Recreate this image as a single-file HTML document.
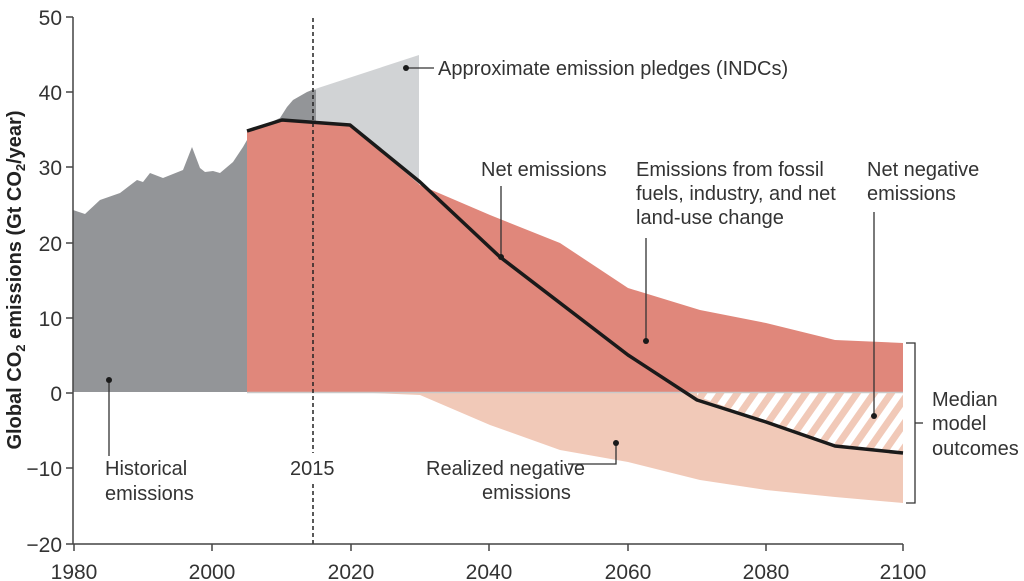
<!DOCTYPE html>
<html><head><meta charset="utf-8"><style>
html,body{margin:0;padding:0;background:#fff;}
svg{display:block;font-family:"Liberation Sans Narrow","Liberation Sans",sans-serif;}
text{fill:#333;font-size:19px;}
</style></head><body>
<svg width="1024" height="581" viewBox="0 0 1024 581">
<defs>
<pattern id="hatch" patternUnits="userSpaceOnUse" width="14" height="14" patternTransform="rotate(35)">
<rect width="14" height="14" fill="#fff"/><rect width="7" height="14" fill="#f1c9b8"/>
</pattern>
</defs>
<polygon points="312,90 419,55 419,185 350,125 312,123" fill="#d1d3d5"/>
<polygon points="73,210 85,214 100,200 120,193 137,180 143,182 150,173 163,178 183,170 192,147 200,168 205,172 213,171 220,173 233,162 243,147 247,140 247,392 73,392" fill="#939598"/>
<polygon points="247,133 280,118 287,107 293,100 307,92 312,90 316,90 316,125 247,135" fill="#939598"/>
<polygon points="350,392 420,395 490,425 560,450 628,462 700,480 766,490 835,497 903,503 903,392" fill="#f1c9b8"/>
<polygon points="697,396 766,422 835,446 903,453 903,393 697,393" fill="url(#hatch)"/>
<polygon points="247,131 282,120 350,125 420,185 490,215 560,243 628,288 700,310 766,323 835,340 903,343 903,392 247,392" fill="#e0877b"/>
<line x1="247" y1="392.5" x2="903" y2="392.5" stroke="#c9c9c9" stroke-width="1.5"/>
<polyline points="247,131 282,120 350,125 420,182 500,257 628,355 697,400 766,422 835,446 903,453" fill="none" stroke="#1a1a1a" stroke-width="3.5" stroke-linejoin="round"/>
<line x1="313" y1="18" x2="313" y2="453" stroke="#222" stroke-width="1.5" stroke-dasharray="4,3"/>
<line x1="313" y1="484" x2="313" y2="545" stroke="#222" stroke-width="1.5" stroke-dasharray="4,3"/>
<line x1="73" y1="17" x2="73" y2="544" stroke="#444" stroke-width="1.5"/>
<line x1="73" y1="544" x2="903" y2="544" stroke="#444" stroke-width="1.5"/>
<g stroke="#444" stroke-width="1.5">
<line x1="66" y1="17" x2="73" y2="17"/><line x1="66" y1="92" x2="73" y2="92"/><line x1="66" y1="167" x2="73" y2="167"/><line x1="66" y1="243" x2="73" y2="243"/><line x1="66" y1="318" x2="73" y2="318"/><line x1="66" y1="393" x2="73" y2="393"/><line x1="66" y1="468" x2="73" y2="468"/><line x1="66" y1="544" x2="73" y2="544"/>
<line x1="74" y1="544" x2="74" y2="551"/><line x1="212" y1="544" x2="212" y2="551"/><line x1="351" y1="544" x2="351" y2="551"/><line x1="489" y1="544" x2="489" y2="551"/><line x1="628" y1="544" x2="628" y2="551"/><line x1="766" y1="544" x2="766" y2="551"/><line x1="903" y1="544" x2="903" y2="551"/>
</g>
<g text-anchor="end">
<text x="62" y="25" style="font-size:21px">50</text><text x="62" y="100" style="font-size:21px">40</text><text x="62" y="175" style="font-size:21px">30</text><text x="62" y="251" style="font-size:21px">20</text><text x="62" y="326" style="font-size:21px">10</text><text x="62" y="401" style="font-size:21px">0</text><text x="62" y="476" style="font-size:21px">−10</text><text x="62" y="552" style="font-size:21px">−20</text>
</g>
<g text-anchor="middle">
<text x="74" y="579" style="font-size:21px">1980</text><text x="212" y="579" style="font-size:21px">2000</text><text x="351" y="579" style="font-size:21px">2020</text><text x="489" y="579" style="font-size:21px">2040</text><text x="628" y="579" style="font-size:21px">2060</text><text x="766" y="579" style="font-size:21px">2080</text><text x="903" y="579" style="font-size:21px">2100</text>
</g>
<text transform="translate(21,280) rotate(-90)" text-anchor="middle" style="font-weight:bold;font-size:20px;fill:#222">Global CO<tspan style="font-size:13px" dy="4">2</tspan><tspan dy="-4"> emissions (Gt CO</tspan><tspan style="font-size:13px" dy="4">2</tspan><tspan dy="-4">/year)</tspan></text>
<g stroke="#333" stroke-width="1.3" fill="none">
<line x1="406" y1="68" x2="434" y2="68"/>
<line x1="109" y1="380" x2="109" y2="456"/>
<line x1="501" y1="186" x2="501" y2="257"/>
<line x1="646" y1="238" x2="646" y2="340"/>
<line x1="874" y1="212" x2="874" y2="416"/>
<polyline points="616,443 616,464 568,464"/>
<polyline points="906,343 915,343 915,503 906,503"/>
<line x1="915" y1="423" x2="923" y2="423"/>
</g>
<g fill="#1a1a1a">
<circle cx="406" cy="68" r="3"/><circle cx="109" cy="380" r="3"/><circle cx="501" cy="257" r="3"/><circle cx="646" cy="341" r="3"/><circle cx="874" cy="416" r="3"/><circle cx="616" cy="443" r="3"/>
</g>
<text x="438" y="75" style="font-size:20px">Approximate emission pledges (INDCs)</text>
<text x="481" y="176" style="font-size:20px">Net emissions</text>
<text x="636" y="176" style="font-size:20px">Emissions from fossil</text>
<text x="636" y="200" style="font-size:20px">fuels, industry, and net</text>
<text x="636" y="224" style="font-size:20px">land-use change</text>
<text x="867" y="176" style="font-size:20px">Net negative</text>
<text x="867" y="200" style="font-size:20px">emissions</text>
<text x="105" y="475" style="font-size:20px">Historical</text>
<text x="105" y="500" style="font-size:20px">emissions</text>
<text x="290" y="475" style="font-size:20px">2015</text>
<text x="426" y="475" style="font-size:20px">Realized negative</text>
<text x="482" y="499" style="font-size:20px">emissions</text>
<text x="932" y="406" style="font-size:20px">Median</text>
<text x="932" y="430" style="font-size:20px">model</text>
<text x="932" y="455" style="font-size:20px">outcomes</text>
</svg>
</body></html>
